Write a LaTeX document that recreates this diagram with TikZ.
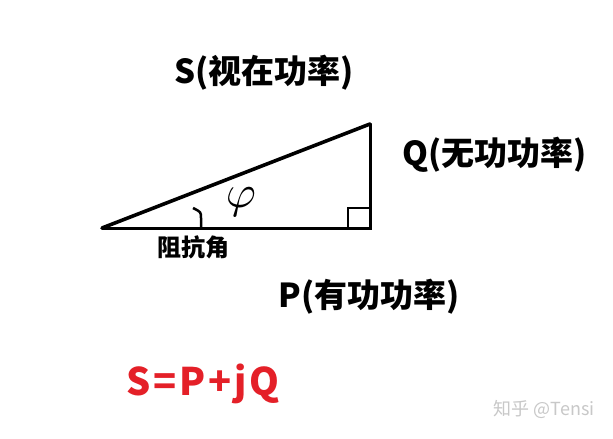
\documentclass[tikz,border=0pt]{standalone}
\usepackage{fontspec}
\usepackage{graphicx}
\newfontfamily\cjk{Noto Sans CJK SC}
\definecolor{formred}{RGB}{228,32,40}
\definecolor{markgray}{RGB}{200,200,200}
\tikzset{
  side/.style={line width=3pt, line cap=round},
  lbl/.style={font=\cjk\bfseries\fontsize{33}{36}\selectfont, inner sep=0pt},
}
\begin{document}
\begin{tikzpicture}[x=1pt,y=-1pt]
      \useasboundingbox[fill=white] (0,0) rectangle (613,439);
      \coordinate (A) at (102,228);
      \coordinate (B) at (370,228);
      \coordinate (C) at (370,124);
      \draw[side, line width=3.6pt] (A) -- (C);
      \draw[side] (A) -- (B) -- (C);
      \draw[line width=2.5pt] (348,228) -- (348,208) -- (370,208);
      \draw[line width=2.5pt] (193,208) .. controls (201,212) .. (201,218) -- (201,228);
      \node[inner sep=0pt] (phi) at (241,202) {\scalebox{4.6}{$\varphi$}};
      \node[lbl] (S) at (264,73) {S(视在功率)};
      \node[lbl] (Q) at (495,155) {Q(无功功率)};
      \node[lbl] (P) at (369,297) {P(有功功率)};
      \node[font=\cjk\bfseries\fontsize{24}{26}\selectfont, inner sep=0pt] (ang) at (193,247) {阻抗角};
      \node[font=\cjk\bfseries\fontsize{38}{42}\selectfont, text=formred, inner sep=0pt] (eq) at (203,384) {\addfontfeatures{LetterSpace=7}S=P+jQ};
      \node[font=\cjk\fontsize{18}{20}\selectfont, text=markgray, inner sep=0pt] (wm) at (544,409) {知乎 @Tensi};
    \end{tikzpicture}
\end{document}
